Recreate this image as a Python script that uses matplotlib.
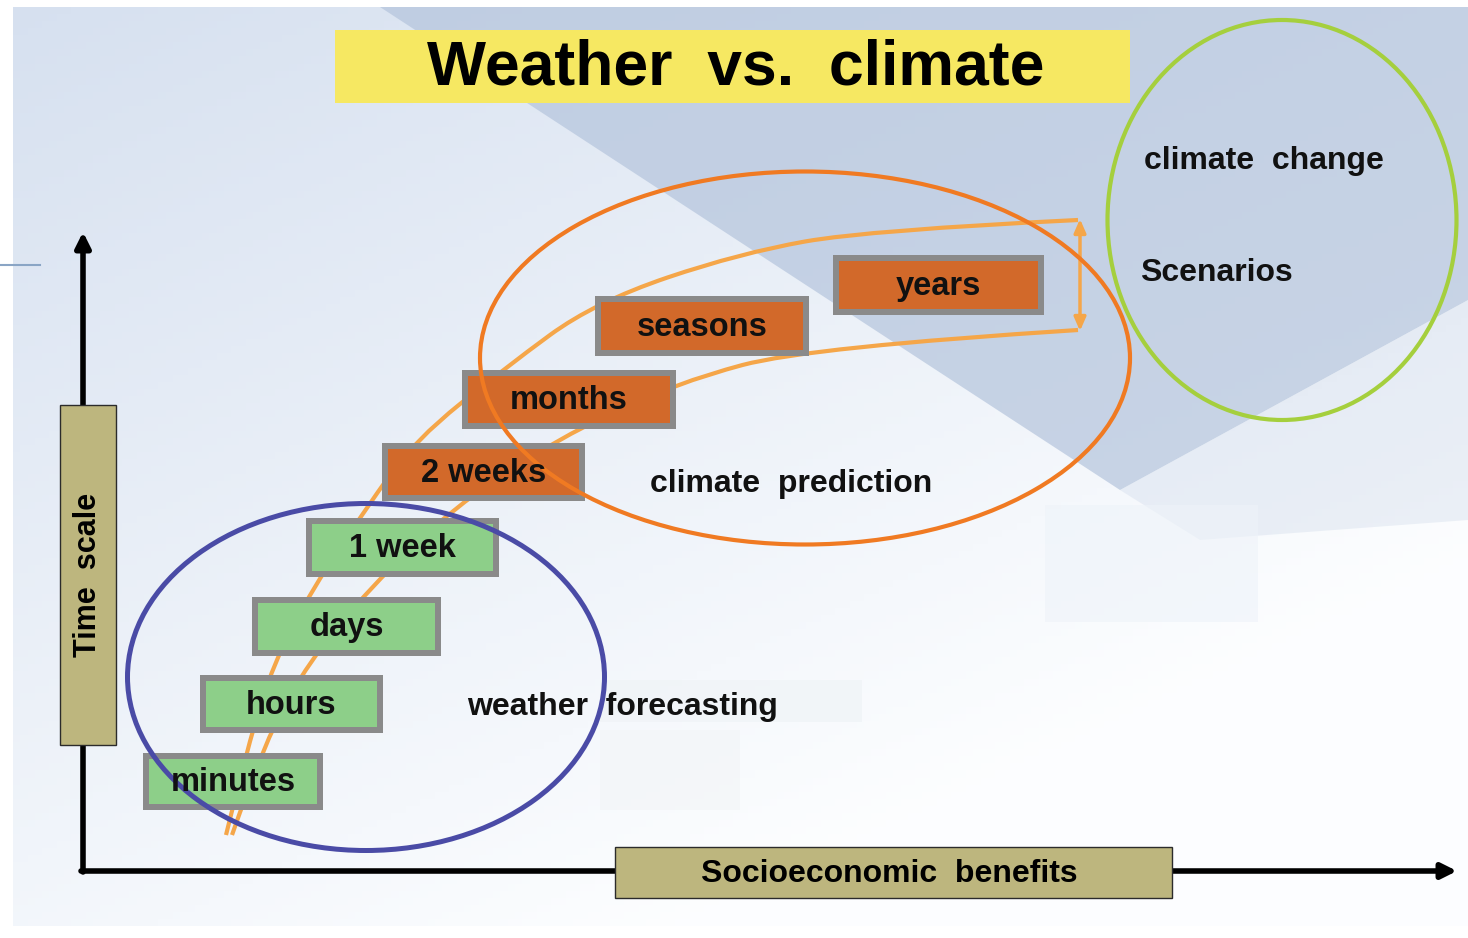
import matplotlib.pyplot as plt
from matplotlib.patches import Rectangle, Ellipse, Polygon, PathPatch
from matplotlib.path import Path
import numpy as np

# time scale boxes, bottom to top
box_labels = ["minutes", "hours", "days", "1 week", "2 weeks", "months", "seasons", "years"]
box_kind = ["weather", "weather", "weather", "weather", "climate", "climate", "climate", "climate"]
# outer extents (x0, x1, y0, y1) in pixel space, y downwards
box_extent = [(143, 323, 753, 810), (200, 383, 675, 733), (252, 441, 597, 656),
              (306, 499, 518, 577), (382, 585, 443, 501), (462, 676, 370, 429),
              (595, 809, 296, 356), (833, 1044, 255, 315)]

region_labels = ["weather  forecasting", "climate  prediction", "climate  change", "Scenarios"]
region_pos = [(467, 707), (650, 484), (1144, 161), (1140, 273)]

title = "Weather  vs.  climate"
y_label = "Time  scale"
x_label = "Socioeconomic  benefits"

# light orange band through the boxes
band_upper_x = [226, 248, 274, 313, 365, 415, 505, 595, 740, 870, 1078]
band_upper_y = [835, 745, 662, 588, 510, 440, 368, 302, 253, 230, 220]
band_lower_x = [232, 265, 310, 370, 450, 555, 675, 810, 1078]
band_lower_y = [835, 740, 660, 588, 510, 440, 383, 347, 330]

W, H = 1468, 938
FONT = "Liberation Sans"
fill = {"weather": "#8dcf89", "climate": "#d2692a"}


def smooth_path(xs, ys):
    # quadratic bezier through midpoints, points used as controls
    pts = list(zip(xs, ys))
    verts = [pts[0]]
    codes = [Path.MOVETO]
    for i in range(1, len(pts) - 1):
        mid = ((pts[i][0] + pts[i + 1][0]) / 2, (pts[i][1] + pts[i + 1][1]) / 2)
        if i == len(pts) - 2:
            mid = pts[-1]
        verts += [pts[i], mid]
        codes += [Path.CURVE3, Path.CURVE3]
    return Path(verts, codes)


fig = plt.figure(figsize=(W / 100, H / 100), dpi=100)
ax = fig.add_axes([0, 0, 1, 1])
ax.set_xlim(0, W)
ax.set_ylim(H, 0)
ax.axis("off")

# background: light blue fading to white towards bottom right
xx, yy = np.meshgrid(np.linspace(0, 1, 200), np.linspace(0, 1, 130))
t = np.clip(0.55 * xx + 0.75 * yy, 0, 1)
c0 = np.array([0.84, 0.88, 0.94])
c1 = np.array([0.99, 0.995, 1.0])
bg = c0[None, None, :] * (1 - t[..., None]) + c1[None, None, :] * t[..., None]
ax.imshow(bg, extent=(13, W, H - 12, 7), aspect="auto", zorder=0)

# darker diagonal band top right
ax.add_patch(Polygon([(380, 7), (W, 7), (W, 300), (1120, 490)], closed=True,
                     facecolor="#b4c4dc", edgecolor="none", alpha=0.7, zorder=1))
ax.add_patch(Polygon([(1120, 490), (W, 300), (W, 520), (1200, 540)], closed=True,
                     facecolor="#c5d2e5", edgecolor="none", alpha=0.3, zorder=1))
ax.add_patch(Rectangle((1045, 505), 213, 117, facecolor="#eef3f9", edgecolor="none", alpha=0.6, zorder=1))
ax.add_patch(Rectangle((600, 680), 262, 42, facecolor="#f0f4f7", edgecolor="none", alpha=0.8, zorder=1))
ax.add_patch(Rectangle((600, 730), 140, 80, facecolor="#f3f6f9", edgecolor="none", alpha=0.8, zorder=1))
ax.plot([0, 40], [265, 265], color="#8aa5c5", lw=1.5, zorder=1)

# title
ax.add_patch(Rectangle((335, 30), 795, 73, facecolor="#f6e862", edgecolor="none", zorder=2))
ax.text(736, 68, title, fontsize=45, fontweight="bold", family=FONT,
        ha="center", va="center", zorder=6)

# axes arrows
ax.annotate("", xy=(83, 232), xytext=(83, 872),
            arrowprops=dict(arrowstyle="-|>,head_length=0.9,head_width=0.45",
                            color="black", lw=4, shrinkA=0, shrinkB=0), zorder=3)
ax.annotate("", xy=(1457, 871), xytext=(81, 871),
            arrowprops=dict(arrowstyle="-|>,head_length=0.9,head_width=0.45",
                            color="black", lw=4, shrinkA=0, shrinkB=0), zorder=3)

ax.add_patch(Rectangle((60, 405), 56, 340, facecolor="#bdb67e", edgecolor="#2b2b2b", lw=1, zorder=4))
ax.text(88, 575, y_label, rotation=90, fontsize=22, fontweight="bold", family=FONT,
        ha="center", va="center", zorder=6)
ax.add_patch(Rectangle((615, 847), 557, 51, facecolor="#bdb67e", edgecolor="#2b2b2b", lw=1, zorder=4))
ax.text(889, 874, x_label, fontsize=23, fontweight="bold", family=FONT,
        ha="center", va="center", zorder=6)

# orange band
band_col = "#f5a649"
for bx, by in [(band_upper_x, band_upper_y), (band_lower_x, band_lower_y)]:
    ax.add_patch(PathPatch(smooth_path(bx, by), facecolor="none", edgecolor=band_col,
                           lw=3, capstyle="butt", zorder=2))
ax.annotate("", xy=(1080, 219), xytext=(1080, 331),
            arrowprops=dict(arrowstyle="<|-|>,head_length=0.8,head_width=0.35",
                            color=band_col, lw=2.5, shrinkA=0, shrinkB=0), zorder=2)

# boxes
bw = 6
for label, kind, (x0, x1, y0, y1) in zip(box_labels, box_kind, box_extent):
    ax.add_patch(Rectangle((x0 + bw / 2, y0 + bw / 2), x1 - x0 - bw, y1 - y0 - bw,
                           facecolor=fill[kind], edgecolor="#8a8a8a", lw=bw * 0.72,
                           joinstyle="miter", zorder=3))
    ax.text((x0 + x1) / 2, (y0 + y1) / 2 + 1, label, fontsize=23.5, fontweight="bold",
            family=FONT, ha="center", va="center", color="#111111", zorder=6)

# ellipses
ax.add_patch(Ellipse((366, 677), 477, 347, fill=False, edgecolor="#4a4ba6", lw=3.6, zorder=5))
ax.add_patch(Ellipse((805, 358), 650, 373, fill=False, edgecolor="#f07a22", lw=3, zorder=5))
ax.add_patch(Ellipse((1282, 220), 349, 400, fill=False, edgecolor="#a5cf3d", lw=3, zorder=5))

for label, (x, y) in zip(region_labels, region_pos):
    ax.text(x, y, label, fontsize=23, fontweight="bold", family=FONT,
            ha="left", va="center", color="#111111", zorder=6)

fig.savefig("out.png", dpi=100, facecolor="white")
